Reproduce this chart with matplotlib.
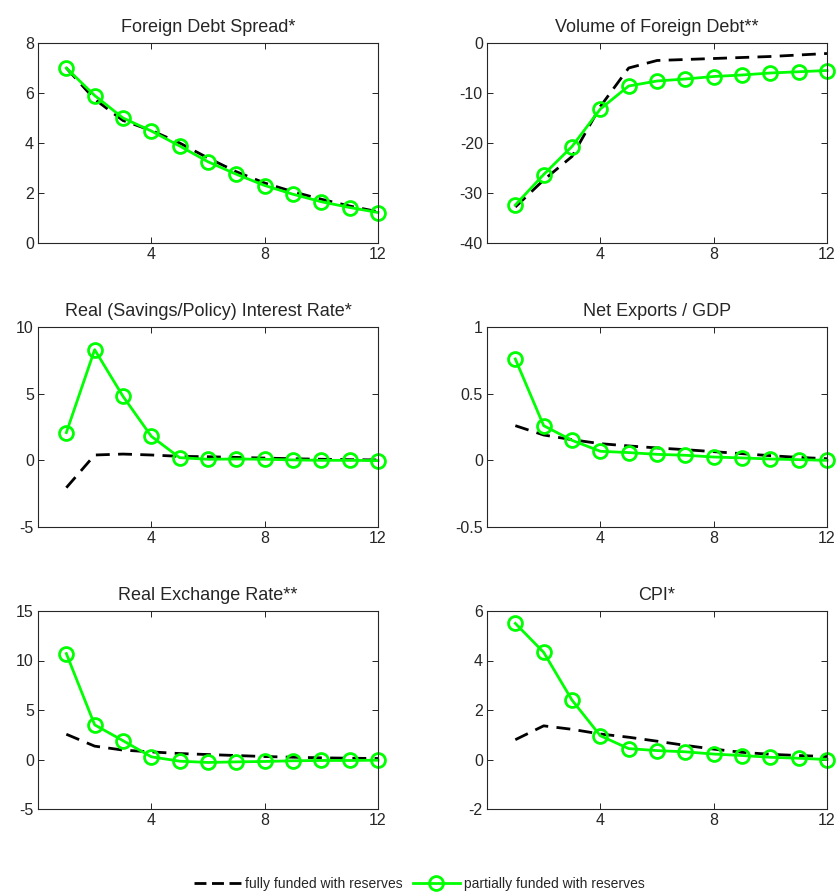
"""Impulse responses: fully vs partially reserve-funded scenarios (3x2 panel)."""

import matplotlib

matplotlib.use("Agg")
import matplotlib.pyplot as plt
from matplotlib.lines import Line2D

plt.rcParams["font.family"] = ["Liberation Sans", "DejaVu Sans"]

periods = list(range(1, 13))

titles = [
    "Foreign Debt Spread*",
    "Volume of Foreign Debt**",
    "Real (Savings/Policy) Interest Rate*",
    "Net Exports / GDP",
    "Real Exchange Rate**",
    "CPI*",
]

fully_funded = [
    [7.0, 5.75, 4.9, 4.5, 4.0, 3.4, 2.85, 2.4, 2.05, 1.75, 1.48, 1.25],
    [-32.8, -27.4, -22.7, -12.7, -5.0, -3.5, -3.3, -3.1, -2.9, -2.7, -2.4, -2.1],
    [-2.05, 0.4, 0.47, 0.4, 0.3, 0.27, 0.22, 0.17, 0.12, 0.08, 0.05, 0.03],
    [0.26, 0.19, 0.155, 0.125, 0.108, 0.093, 0.08, 0.065, 0.05, 0.035, 0.022, 0.012],
    [2.55, 1.35, 0.95, 0.77, 0.6, 0.5, 0.4, 0.3, 0.23, 0.17, 0.13, 0.1],
    [0.8, 1.36, 1.22, 1.03, 0.9, 0.74, 0.57, 0.42, 0.29, 0.21, 0.16, 0.12],
]

partially_funded = [
    [7.0, 5.9, 5.0, 4.48, 3.88, 3.25, 2.75, 2.3, 1.95, 1.65, 1.42, 1.22],
    [-32.4, -26.3, -20.7, -13.2, -8.6, -7.6, -7.2, -6.7, -6.4, -6.0, -5.75, -5.5],
    [2.08, 8.3, 4.8, 1.8, 0.2, 0.08, 0.1, 0.08, 0.03, 0.0, 0.0, -0.02],
    [0.76, 0.26, 0.15, 0.068, 0.058, 0.045, 0.038, 0.025, 0.018, 0.01, 0.005, 0.0],
    [10.7, 3.5, 1.9, 0.27, -0.17, -0.3, -0.24, -0.2, -0.13, -0.1, -0.1, -0.07],
    [5.5, 4.33, 2.4, 0.96, 0.44, 0.36, 0.31, 0.22, 0.16, 0.09, 0.05, 0.0],
]

y_limits = [(0, 8), (-40, 0), (-5, 10), (-0.5, 1), (-5, 15), (-2, 6)]
y_ticks = [
    [0, 2, 4, 6, 8],
    [-40, -30, -20, -10, 0],
    [-5, 0, 5, 10],
    [-0.5, 0, 0.5, 1],
    [-5, 0, 5, 10, 15],
    [-2, 0, 2, 4, 6],
]
y_ticklabels = [
    ["0", "2", "4", "6", "8"],
    ["-40", "-30", "-20", "-10", "0"],
    ["-5", "0", "5", "10"],
    ["-0.5", "0", "0.5", "1"],
    ["-5", "0", "5", "10", "15"],
    ["-2", "0", "2", "4", "6"],
]
x_ticks = [4, 8, 12]

GREEN = "#00ff00"
TEXT = "#262626"
DASH = (0, (5, 3))

W, H = 839, 896
fig = plt.figure(figsize=(W / 100, H / 100), dpi=100)

col_left = [38, 487]
row_top = [43, 327, 611]
row_height = [200, 200, 198]
ax_width = 340

for i in range(6):
    r, c = divmod(i, 2)
    left = col_left[c] / W
    bottom = 1 - (row_top[r] + row_height[r]) / H
    ax = fig.add_axes([left, bottom, ax_width / W, row_height[r] / H])

    ax.plot(periods, fully_funded[i], color="black", linestyle=DASH, linewidth=2.0)
    ax.plot(
        periods,
        partially_funded[i],
        color=GREEN,
        linewidth=2.0,
        marker="o",
        markersize=10,
        markerfacecolor="none",
        markeredgewidth=2.0,
        clip_on=False,
    )

    ax.set_xlim(0, 12)
    ax.set_ylim(*y_limits[i])
    ax.set_xticks(x_ticks)
    ax.set_yticks(y_ticks[i])
    ax.set_yticklabels(y_ticklabels[i])
    ax.tick_params(
        direction="in",
        top=True,
        right=True,
        length=4,
        width=0.6,
        labelsize=11.5,
        labelcolor=TEXT,
        pad=3,
    )
    for spine in ax.spines.values():
        spine.set_linewidth(0.8)
        spine.set_color(TEXT)
    ax.set_title(titles[i], fontsize=13, color=TEXT, pad=8)

# legend handle gets a tighter dash so three dashes fit like the original
handles = [
    Line2D([], [], color="black", linestyle=(0, (4.3, 2)), linewidth=2.0),
    Line2D(
        [], [], color=GREEN, linewidth=2.0, marker="o", markersize=10,
        markerfacecolor="none", markeredgewidth=2.0,
    ),
]
fig.legend(
    handles,
    ["fully funded with reserves", "partially funded with reserves"],
    loc="center",
    bbox_to_anchor=(0.5, 1 - 884 / H),
    ncol=2,
    frameon=False,
    fontsize=10,
    handlelength=3.4,
    handletextpad=0.3,
    columnspacing=0.7,
    labelcolor=TEXT,
)

fig.savefig("out.png", dpi=100, facecolor="white")
